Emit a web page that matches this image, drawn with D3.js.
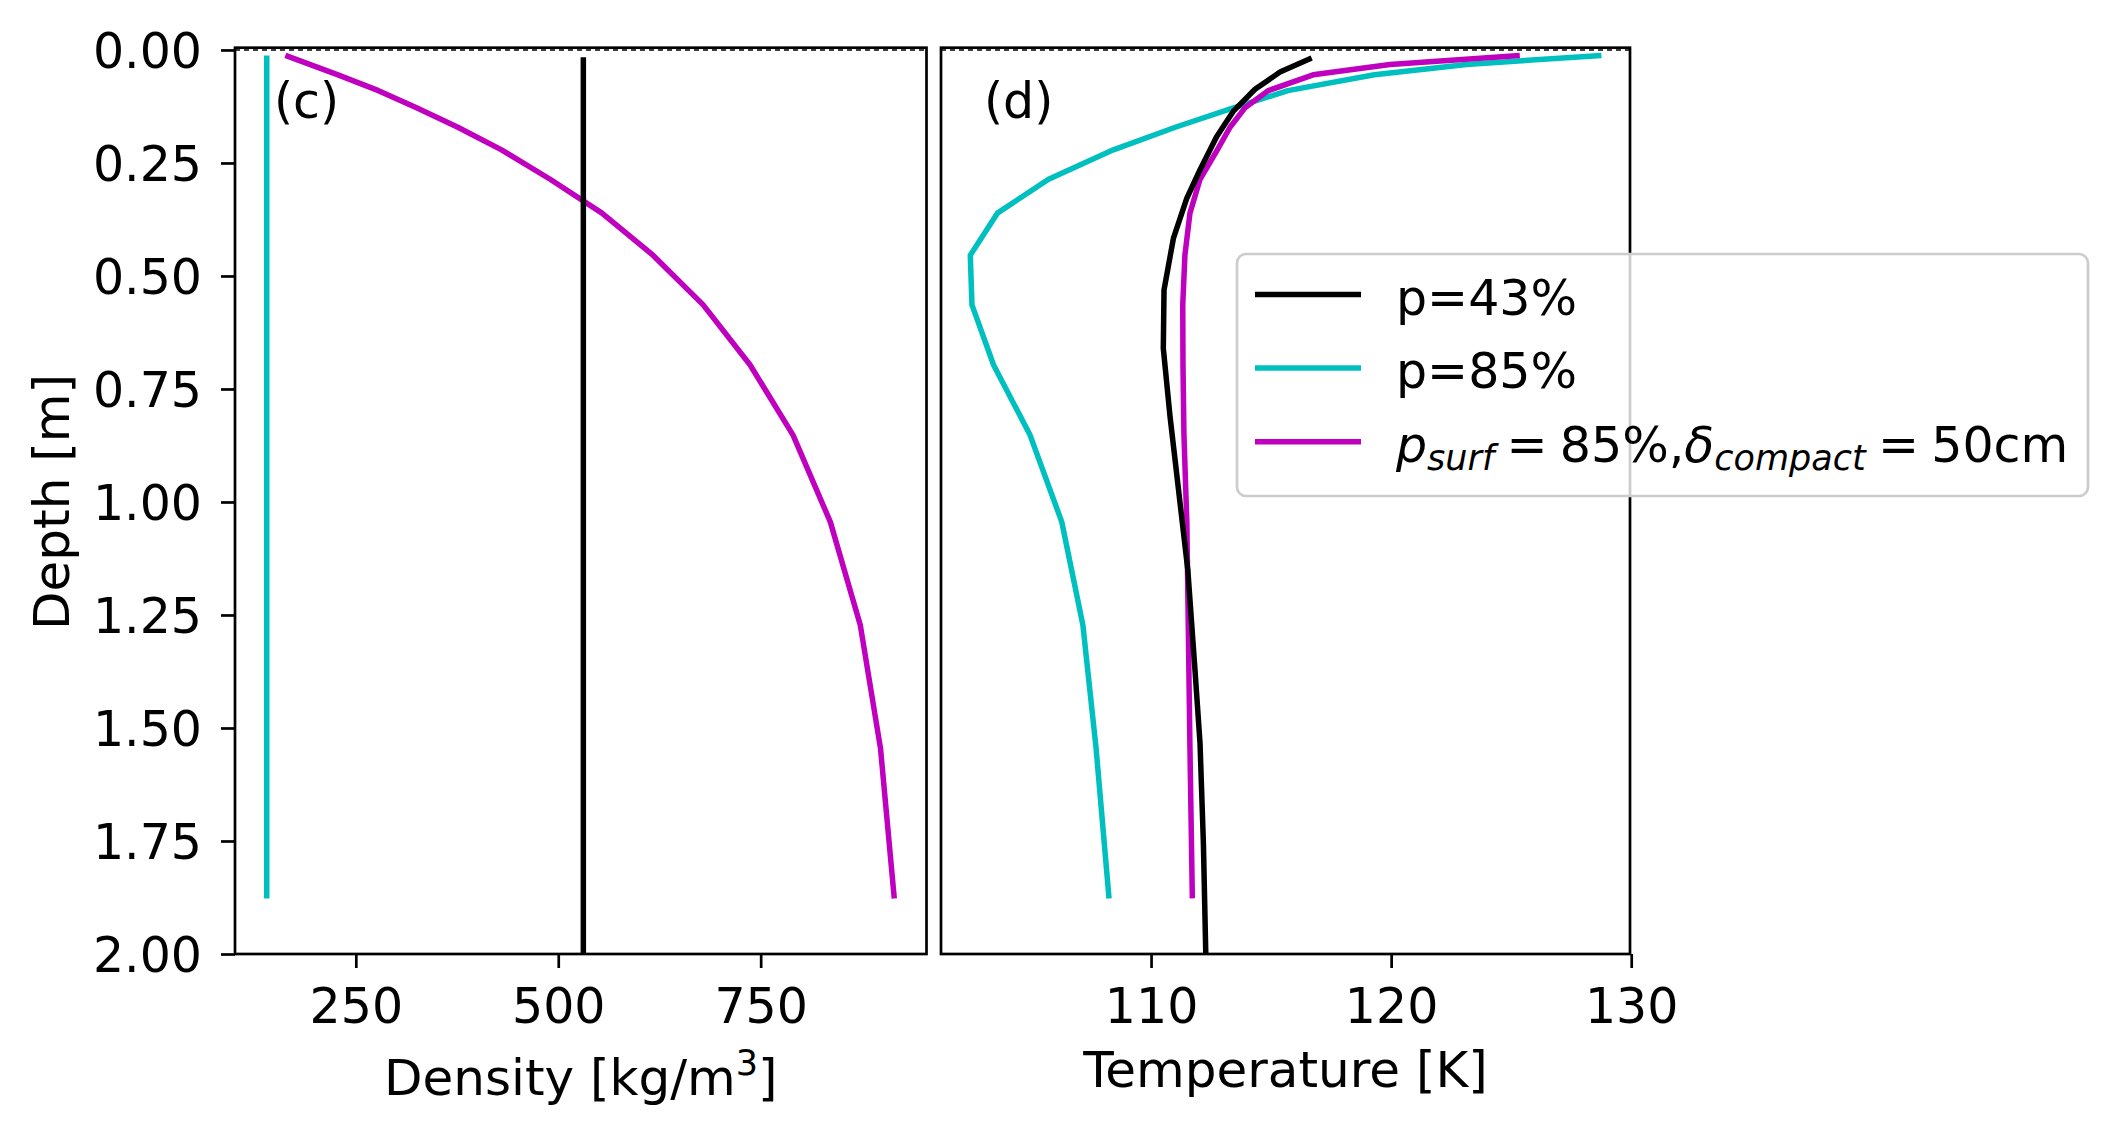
<!DOCTYPE html>
<html>
<head>
<meta charset="utf-8">
<script src="https://cdn.jsdelivr.net/npm/d3@7"></script>
<style>
  body { margin: 0; background: #fff; }
  svg text { font-family: "DejaVu Sans", sans-serif; fill: #000; white-space: pre; }
</style>
</head>
<body>
<svg id="chart" width="2118" height="1137"></svg>
<script>
// layer centre depths [m] of the p=85% and compacted runs
const depthGrid = [0.012, 0.032, 0.055, 0.090, 0.128, 0.171, 0.221, 0.286, 0.361,
  0.454, 0.564, 0.697, 0.852, 1.044, 1.272, 1.545, 1.877];

// density [kg/m3]
const rhoP85 = [140, 140, 140, 140, 140, 140, 140, 140, 140,
  140, 140, 140, 140, 140, 140, 140, 140];
const rhoCompact = [163, 193, 228, 278, 325, 376, 430, 490, 554,
  617, 679, 737, 790, 836, 873, 898, 915];
const rhoP43Depth = [0.016, 2.0];
const rhoP43 = [531, 531];

// temperature [K]
const tempP85 = [128.76, 123.14, 119.3, 115.7, 113.43, 111.01, 108.43, 105.73, 103.6,
  102.47, 102.54, 103.44, 104.96, 106.28, 107.16, 107.71, 108.25];
const tempCompact = [125.36, 119.95, 116.75, 114.88, 113.91, 113.29, 112.76, 112.04, 111.62,
  111.41, 111.32, 111.33, 111.37, 111.49, 111.55, 111.62, 111.72];
const tempP43Depth = [0.018, 0.049, 0.087, 0.136, 0.192, 0.265, 0.328, 0.417, 0.531,
  0.660, 0.811, 0.907, 1.150, 1.372, 1.534, 1.755, 2.0];
const tempP43 = [116.69, 115.37, 114.33, 113.42, 112.73, 112.04, 111.49, 110.93, 110.54,
  110.51, 110.79, 111.0, 111.53, 111.83, 112.04, 112.18, 112.28];

const depthTicks = [0, 0.25, 0.5, 0.75, 1.0, 1.25, 1.5, 1.75, 2.0];
const densityTicks = [250, 500, 750];
const tempTicks = [110, 120, 130];

const series = [
  { label: "p=43%", color: "#000000", rho: rhoP43, rhoDepth: rhoP43Depth, temp: tempP43, tempDepth: tempP43Depth },
  { label: "p=85%", color: "#00bfbf", rho: rhoP85, rhoDepth: depthGrid, temp: tempP85, tempDepth: depthGrid },
  { label: "compact", color: "#bf00bf", rho: rhoCompact, rhoDepth: depthGrid, temp: tempCompact, tempDepth: depthGrid }
];
const drawOrder = [1, 2, 0];

const svg = d3.select("#chart");
const plotTop = 47.7, plotBottom = 954;
const tickFont = 49, labelFont = 50;

const y = d3.scaleLinear().domain([-0.005, 2.0]).range([plotTop, plotBottom]);

const panels = [
  { id: "dens", x: d3.scaleLinear().domain([100.8, 954.8]).range([235, 926.5]),
    ticks: densityTicks, key: "rho", dkey: "rhoDepth", tag: "(c)", tagX: 274, showY: true },
  { id: "temp", x: d3.scaleLinear().domain([101.25, 129.95]).range([941, 1630]),
    ticks: tempTicks, key: "temp", dkey: "tempDepth", tag: "(d)", tagX: 984, showY: false }
];

panels.forEach(function (p) {
  const x0 = p.x.range()[0], x1 = p.x.range()[1];
  const g = svg.append("g");

  g.append("clipPath").attr("id", "clip_" + p.id)
    .append("rect").attr("x", x0).attr("y", plotTop).attr("width", x1 - x0).attr("height", plotBottom - plotTop);

  const lines = g.append("g").attr("clip-path", "url(#clip_" + p.id + ")");
  drawOrder.forEach(function (i) {
    const s = series[i];
    const pts = s[p.key].map((v, j) => [v, s[p.dkey][j]]);
    lines.append("path")
      .datum(pts)
      .attr("fill", "none")
      .attr("stroke", s.color)
      .attr("stroke-width", 5.5)
      .attr("stroke-linejoin", "round")
      .attr("d", d3.line().x(d => p.x(d[0])).y(d => y(d[1])));
  });

  // dashed surface line at depth 0
  g.append("line")
    .attr("x1", x0).attr("x2", x1)
    .attr("y1", y(0)).attr("y2", y(0))
    .attr("stroke", "#000").attr("stroke-width", 1.6)
    .attr("stroke-dasharray", "5,4");

  // x axis
  const xa = g.append("g")
    .attr("transform", "translate(0," + plotBottom + ")")
    .call(d3.axisBottom(p.x).tickValues(p.ticks).tickFormat(d3.format("d"))
      .tickSize(14).tickSizeOuter(0).tickPadding(20));
  xa.select(".domain").remove();
  xa.selectAll("line").attr("stroke-width", 2.7);
  xa.selectAll("text").attr("font-size", tickFont).attr("font-family", "DejaVu Sans");

  if (p.showY) {
    const ya = g.append("g")
      .attr("transform", "translate(" + x0 + ",0)")
      .call(d3.axisLeft(y).tickValues(depthTicks).tickFormat(d3.format(".2f"))
        .tickSize(14).tickSizeOuter(0).tickPadding(19));
    ya.select(".domain").remove();
    ya.selectAll("line").attr("stroke-width", 2.7);
    ya.selectAll("text").attr("font-size", tickFont).attr("font-family", "DejaVu Sans")
      .attr("dy", "0.36em");
  }

  // frame
  g.append("rect")
    .attr("x", x0).attr("y", plotTop)
    .attr("width", x1 - x0).attr("height", plotBottom - plotTop)
    .attr("fill", "none").attr("stroke", "#000").attr("stroke-width", 2.7);

  g.append("text")
    .attr("x", p.tagX).attr("y", 118)
    .attr("font-size", tickFont)
    .text(p.tag);
});

// axis labels
const dl = svg.append("text")
  .attr("x", d3.mean(panels[0].x.range())).attr("y", 1095)
  .attr("text-anchor", "middle").attr("font-size", labelFont);
dl.append("tspan").text("Density [kg/m");
dl.append("tspan").attr("font-size", labelFont * 0.7).attr("dy", -20).text("3");
dl.append("tspan").attr("dy", 20).text("]");

svg.append("text")
  .attr("x", d3.mean(panels[1].x.range())).attr("y", 1087)
  .attr("text-anchor", "middle").attr("font-size", labelFont)
  .text("Temperature [K]");

svg.append("text")
  .attr("transform", "translate(69," + y(1.0) + ") rotate(-90)")
  .attr("text-anchor", "middle").attr("font-size", labelFont)
  .text("Depth [m]");

// legend
const leg = svg.append("g");
leg.append("rect")
  .attr("x", 1237).attr("y", 254).attr("width", 851).attr("height", 242)
  .attr("rx", 9).attr("ry", 9)
  .attr("fill", "#fff").attr("fill-opacity", 0.8)
  .attr("stroke", "#cccccc").attr("stroke-width", 2.7);

series.forEach(function (s, i) {
  const ly = 294.5 + i * 73.6;
  leg.append("line")
    .attr("x1", 1255).attr("x2", 1361)
    .attr("y1", ly).attr("y2", ly)
    .attr("stroke", s.color).attr("stroke-width", 5.5);
  const t = leg.append("text")
    .attr("x", 1396).attr("y", ly + 20)
    .attr("font-size", tickFont);
  if (s.label !== "compact") {
    t.text(s.label);
  } else {
    t.append("tspan").attr("font-style", "italic").text("p");
    t.append("tspan").attr("font-style", "italic").attr("font-size", 35).attr("dy", 8).text("surf");
    t.append("tspan").attr("dy", -8).text("\u2005=\u200585%,");
    t.append("tspan").attr("font-style", "italic").text("δ");
    t.append("tspan").attr("font-style", "italic").attr("font-size", 35).attr("dy", 8).text("compact");
    t.append("tspan").attr("dy", -8).text("\u2005=\u200550cm");
  }
});
</script>
</body>
</html>
